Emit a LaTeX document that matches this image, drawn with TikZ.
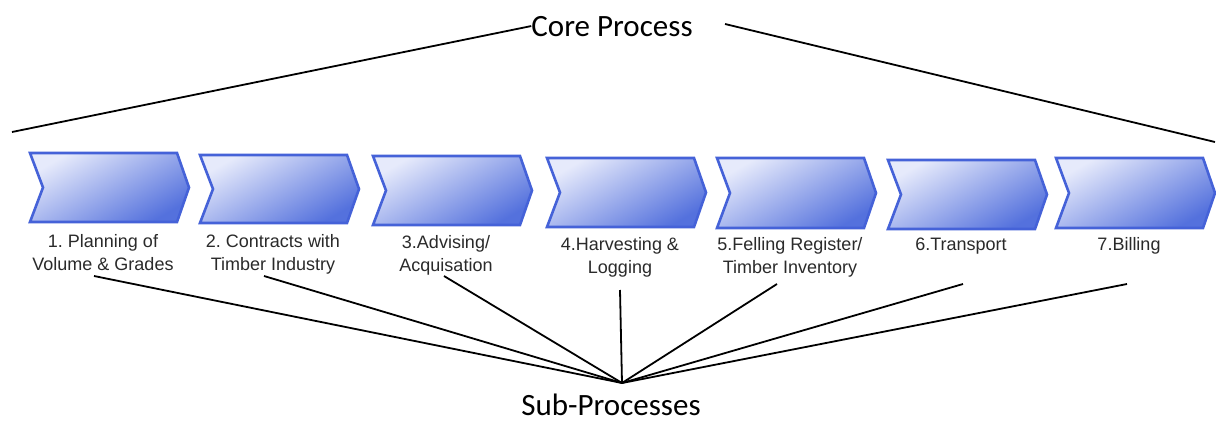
\documentclass[tikz,border=0pt]{standalone}
\usepackage{fontspec}
\setmainfont{Liberation Sans}
\newfontfamily\calib{Carlito}
\definecolor{chevbd}{HTML}{4562D8}
\definecolor{chevlt}{HTML}{E6EAFB}
\definecolor{chevdk}{HTML}{5471DD}
\definecolor{labtxt}{HTML}{2A2A2A}
\tikzset{
  chev/.style={draw=chevbd, line width=2.6pt, line join=miter,
    top color=chevlt, bottom color=chevdk, shading angle=30},
  lab/.style={font=\frenchspacing\fontsize{18}{23}\selectfont, text=labtxt, align=center,
    anchor=north, inner sep=0pt},
  link/.style={line width=1.8pt, draw=black},
  big/.style={font=\calib\fontsize{31}{36}\selectfont, anchor=base, inner sep=0pt}
}
% name, left, top, bottom, first baseline, text
\newcommand\mychev[6]{%
  \path[chev] (#2,#3) -- (#2+147,#3) -- (#2+159,{(#3+#4)/2}) -- (#2+147,#4)
    -- (#2,#4) -- (#2+13,{(#3+#4)/2}) -- cycle;
  \node[lab] (#1) at (#2+73,#5-14) {\rule{0pt}{14pt}#6};
}
\begin{document}
\frenchspacing
\begin{tikzpicture}[x=1pt,y=-1pt]
\useasboundingbox (0,0) rectangle (1216,423);
\fill[white] (0,0) rectangle (1216,423);

\mychev{l1}{30}{153}{222}{247}{1. Planning of\\Volume \& Grades}
\mychev{l2}{200}{155}{223}{247}{2. Contracts with\\Timber Industry}
\mychev{l3}{373}{156}{225}{248}{3.Advising/\\Acquisation}
\mychev{l4}{547}{158}{227}{250}{4.Harvesting \&\\Logging}
\mychev{l5}{717}{158}{228}{250}{5.Felling Register/\\Timber Inventory}
\mychev{l6}{888}{160}{229}{250}{6.Transport}
\mychev{l7}{1056}{158}{228}{250}{7.Billing}

\node[big] (core) at (612,36) {Core Process};
\node[big] (sub) at (611,415) {Sub-Processes};

\coordinate (cl) at (12,132);
\coordinate (cra) at (725,24);
\coordinate (cr) at (1215,142);
\draw[link] (cl) -- (core.west);
\draw[link] (cra) -- (cr);

\coordinate (hub) at (622,383);
\coordinate (s1) at (94,276);
\coordinate (s2) at (264,276);
\coordinate (s3) at (444,276);
\coordinate (s4) at (620,290);
\coordinate (s5) at (777,284);
\coordinate (s6) at (963,284);
\coordinate (s7) at (1127,284);
\foreach \s in {s1,s2,s3,s4,s5,s6,s7}{\draw[link] (\s) -- (hub);}
\end{tikzpicture}
\end{document}
